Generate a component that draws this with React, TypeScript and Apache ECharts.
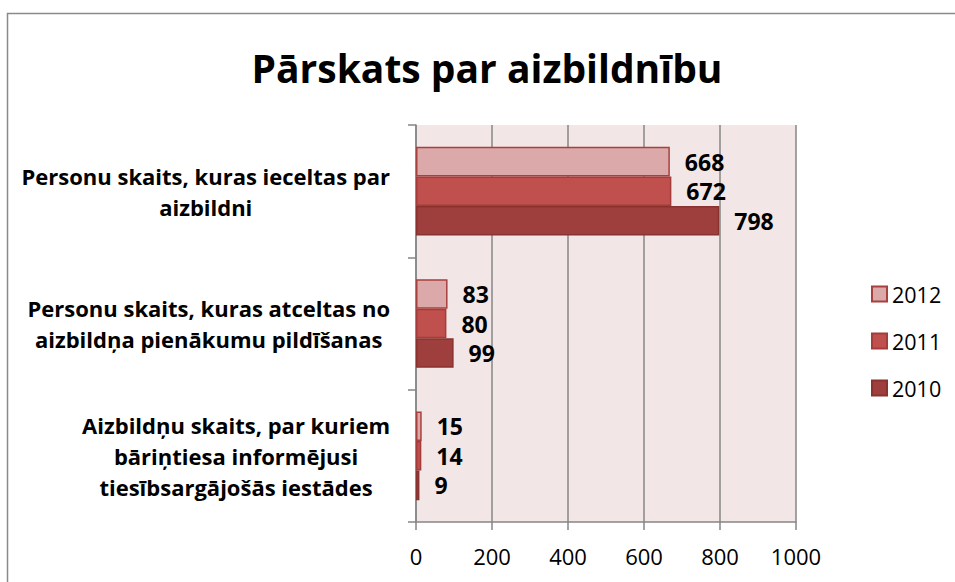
import React, { useEffect, useRef } from "react";
import * as echarts from "echarts";

const categories = [
  "Aizbildņu skaits, par kuriem\nbāriņtiesa informējusi\ntiesībsargājošās iestādes",
  "Personu skaits, kuras atceltas no\naizbildņa pienākumu pildīšanas",
  "Personu skaits, kuras ieceltas par\naizbildni",
];
const values2010 = [9, 99, 798];
const values2011 = [14, 80, 672];
const values2012 = [15, 83, 668];
const xTicks = { min: 0, max: 1000, interval: 200 };
const legendOrder = ["2012", "2011", "2010"];

const FONT = "'Open Sans', 'Noto Sans', sans-serif";

export default function App() {
  const ref = useRef<HTMLDivElement>(null);
  useEffect(() => {
    if (!ref.current) return;
    const chart = echarts.init(ref.current, null, { renderer: "svg" });
    const label = {
      show: true,
      position: "right" as const,
      distance: 15,
      color: "#000",
      fontWeight: "bold" as const,
      fontSize: 23,
      lineHeight: 24,
      fontFamily: FONT,
    };
    const mk = (name: string, data: number[], color: string, border: string) => ({
      name,
      type: "bar",
      data,
      barGap: "0%",
      barCategoryGap: "33%",
      itemStyle: { color, borderColor: border, borderWidth: 1.5 },
      label,
    });
    chart.setOption({
      animation: false,
      backgroundColor: "#ffffff",
      title: {
        text: "Pārskats par aizbildnību",
        left: 487,
        top: 48,
        padding: 0,
        textAlign: "center",
        textStyle: { fontFamily: FONT, fontWeight: "bold", fontSize: 39, color: "#000" },
      },
      legend: {
        orient: "vertical",
        left: 866,
        top: 278,
        itemWidth: 15,
        itemHeight: 15,
        itemGap: 25,
        data: legendOrder,
        icon: "rect",
        textStyle: { fontFamily: FONT, fontSize: 21.5, color: "#000", padding: [0, 0, 0, 0] },
      },
      grid: {
        left: 416,
        right: 159,
        top: 125,
        bottom: 60,
        show: true,
        backgroundColor: "#f2e6e6",
        borderWidth: 0,
      },
      xAxis: {
        type: "value",
        min: xTicks.min,
        max: xTicks.max,
        interval: xTicks.interval,
        axisLine: { show: true, lineStyle: { color: "#868686", width: 1.5 } },
        axisTick: { show: true, length: 8, lineStyle: { color: "#868686", width: 1.5 } },
        splitLine: { show: true, lineStyle: { color: "#868686", width: 1.5 } },
        axisLabel: {
          fontFamily: FONT,
          fontSize: 22,
          color: "#000",
          margin: 23,
          formatter: (v: number) => String(v),
        },
      },
      yAxis: {
        type: "category",
        data: categories,
        axisLine: { show: true, lineStyle: { color: "#868686", width: 1.5 } },
        axisTick: { show: true, length: 8, lineStyle: { color: "#868686", width: 1.5 } },
        axisLabel: {
          margin: 26,
          align: "right",
          formatter: (v: string) => v.split("\n").map((l) => `{c|${l}}`).join("\n"),
          rich: {
            c: {
              align: "center",
              fontFamily: FONT,
              fontWeight: "bold",
              fontSize: 22,
              lineHeight: 31,
              color: "#000",
            },
          },
        },
      },
      graphic: [
        {
          type: "rect",
          shape: { x: 7.5, y: 13.5, width: 1200, height: 1000 },
          style: { fill: "none", stroke: "#8a8a8a", lineWidth: 1.5 },
          silent: true,
        },
      ],
      series: [
        mk("2012", values2012, "#dba9aa", "#a8403e"),
        mk("2011", values2011, "#c0504d", "#a33c3a"),
        mk("2010", values2010, "#9e3f3d", "#8a3230"),
      ],
    });
    return () => chart.dispose();
  }, []);
  return (
    <div
      ref={ref}
      style={{ position: "fixed", left: 0, top: 0, width: 955, height: 582 }}
    />
  );
}
